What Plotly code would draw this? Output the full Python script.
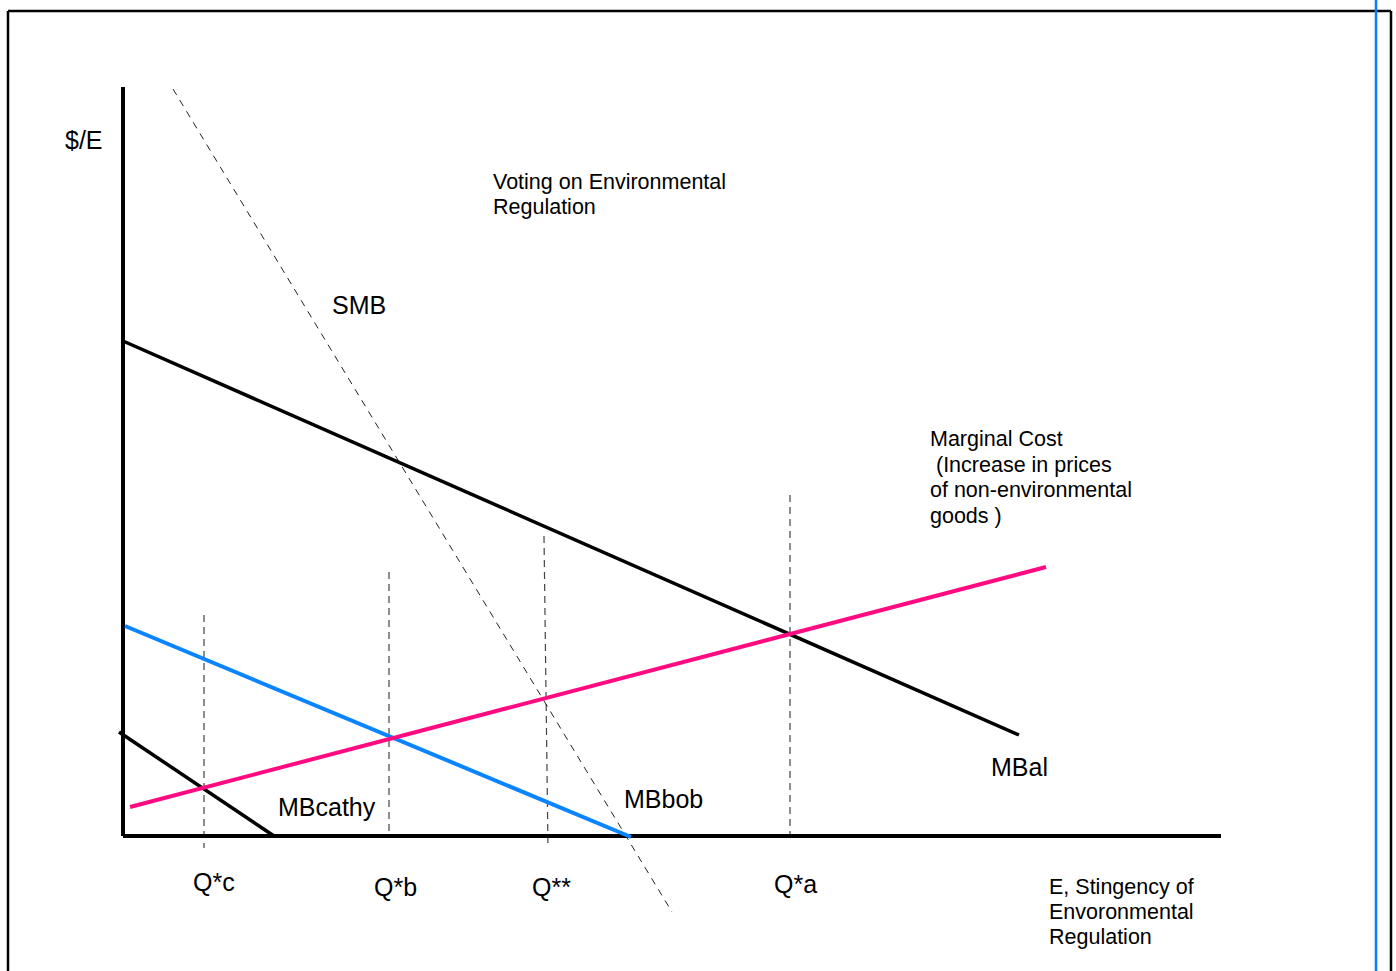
import plotly.graph_objects as go

# ---- data (E on x, $/E on y; origin at axes corner) ----
mbal_x = [0, 896]
mbal_y = [495, 101]
mc_x = [7, 923]
mc_y = [29, 269]
mbbob_x = [2, 508]
mbbob_y = [210, -1]
mbcathy_x = [-4, 151]
mbcathy_y = [104, 0]
smb_x = [50, 549]
smb_y = [747, -76]

q_labels = ["Q*c", "Q*b", "Q**", "Q*a"]
q_x_top = [81, 266, 421, 667]
q_x_bot = [81, 266, 425, 667]
q_y_top = [221, 264, 300, 341]
q_y_bot = [-12, 0, -12, 0]
q_label_x = [69, 250, 408, 650]
q_label_y = [-46, -51, -51, -48]

title_lines = ["Voting on Environmental", "Regulation"]
title_y = [654, 629]
mc_lines = ["Marginal Cost", "\u00a0(Increase in prices", "of non-environmental", "goods )"]
mc_label_y = [397, 371, 346, 320]
xlab_lines = ["E, Stingency of", "Envoronmental", "Regulation"]
xlab_y = [-51, -76, -101]

axis_y_top = 749
axis_x_end = 1098

FONT = "Liberation Sans, Arial, sans-serif"
fig = go.Figure()

# vertical dashed guides
for xt, xb, yt, yb in zip(q_x_top, q_x_bot, q_y_top, q_y_bot):
    fig.add_trace(go.Scatter(x=[xt, xb], y=[yt, yb], mode="lines",
                             line=dict(color="#444444", width=1.2, dash="7px,5px"),
                             hoverinfo="skip", showlegend=False))

# SMB dashed
fig.add_trace(go.Scatter(x=smb_x, y=smb_y, mode="lines",
                         line=dict(color="#222222", width=1, dash="7px,6px"),
                         hoverinfo="skip", showlegend=False))

# axes
fig.add_trace(go.Scatter(x=[0, 0], y=[axis_y_top, 0], mode="lines",
                         line=dict(color="black", width=4), hoverinfo="skip", showlegend=False))
fig.add_trace(go.Scatter(x=[0, axis_x_end], y=[0, 0], mode="lines",
                         line=dict(color="black", width=4), hoverinfo="skip", showlegend=False))

# curves
fig.add_trace(go.Scatter(x=mbal_x, y=mbal_y, mode="lines",
                         line=dict(color="black", width=3.5), hoverinfo="skip", showlegend=False))
fig.add_trace(go.Scatter(x=mbcathy_x, y=mbcathy_y, mode="lines",
                         line=dict(color="black", width=3.5), hoverinfo="skip", showlegend=False))
fig.add_trace(go.Scatter(x=mbbob_x, y=mbbob_y, mode="lines",
                         line=dict(color="#0A84FF", width=4), hoverinfo="skip", showlegend=False))
fig.add_trace(go.Scatter(x=mc_x, y=mc_y, mode="lines",
                         line=dict(color="#FF0A80", width=4), hoverinfo="skip", showlegend=False))

def label(x, y, text, size=25):
    fig.add_annotation(x=x, y=y, xref="x", yref="y", text=text, showarrow=False,
                       xanchor="left", yanchor="middle", align="left", borderpad=0,
                       font=dict(family=FONT, size=size, color="black"))

BLOCK = 21.5
label(-59, 696, "$/E")
for t, yy in zip(title_lines, title_y):
    label(369, yy, t, BLOCK)
label(208, 531, "SMB")
for t, yy in zip(mc_lines, mc_label_y):
    label(806, yy, t, BLOCK)
label(867, 69, "MBal")
label(500, 37, "MBbob")
label(154, 29, "MBcathy")
for lx, ly, t in zip(q_label_x, q_label_y, q_labels):
    label(lx, ly, t)
for t, yy in zip(xlab_lines, xlab_y):
    label(925, yy, t, BLOCK)

# frame and right-edge line
fig.add_shape(type="line", x0=-115, x1=-115, y0=825, y1=-300, xref="x", yref="y",
              line=dict(color="black", width=2.5))
fig.add_shape(type="line", x0=-115, x1=1268, y0=825, y1=825, xref="x", yref="y",
              line=dict(color="black", width=2.5))
fig.add_shape(type="line", x0=1268, x1=1268, y0=825, y1=-300, xref="x", yref="y",
              line=dict(color="black", width=2.5))
fig.add_shape(type="line", x0=1253, x1=1253, y0=900, y1=-300, xref="x", yref="y",
              line=dict(color="#0080FF", width=2.5))

fig.update_layout(
    width=1396, height=971, autosize=False,
    margin=dict(l=0, r=0, t=0, b=0),
    paper_bgcolor="white", plot_bgcolor="white",
    xaxis=dict(range=[-123, 1273], visible=False, fixedrange=True),
    yaxis=dict(range=[-135, 836], visible=False, fixedrange=True),
    showlegend=False,
)

fig.write_html("out.html", config={"displayModeBar": False},
               post_script="document.body.style.margin='0';document.body.style.overflow='hidden';")
